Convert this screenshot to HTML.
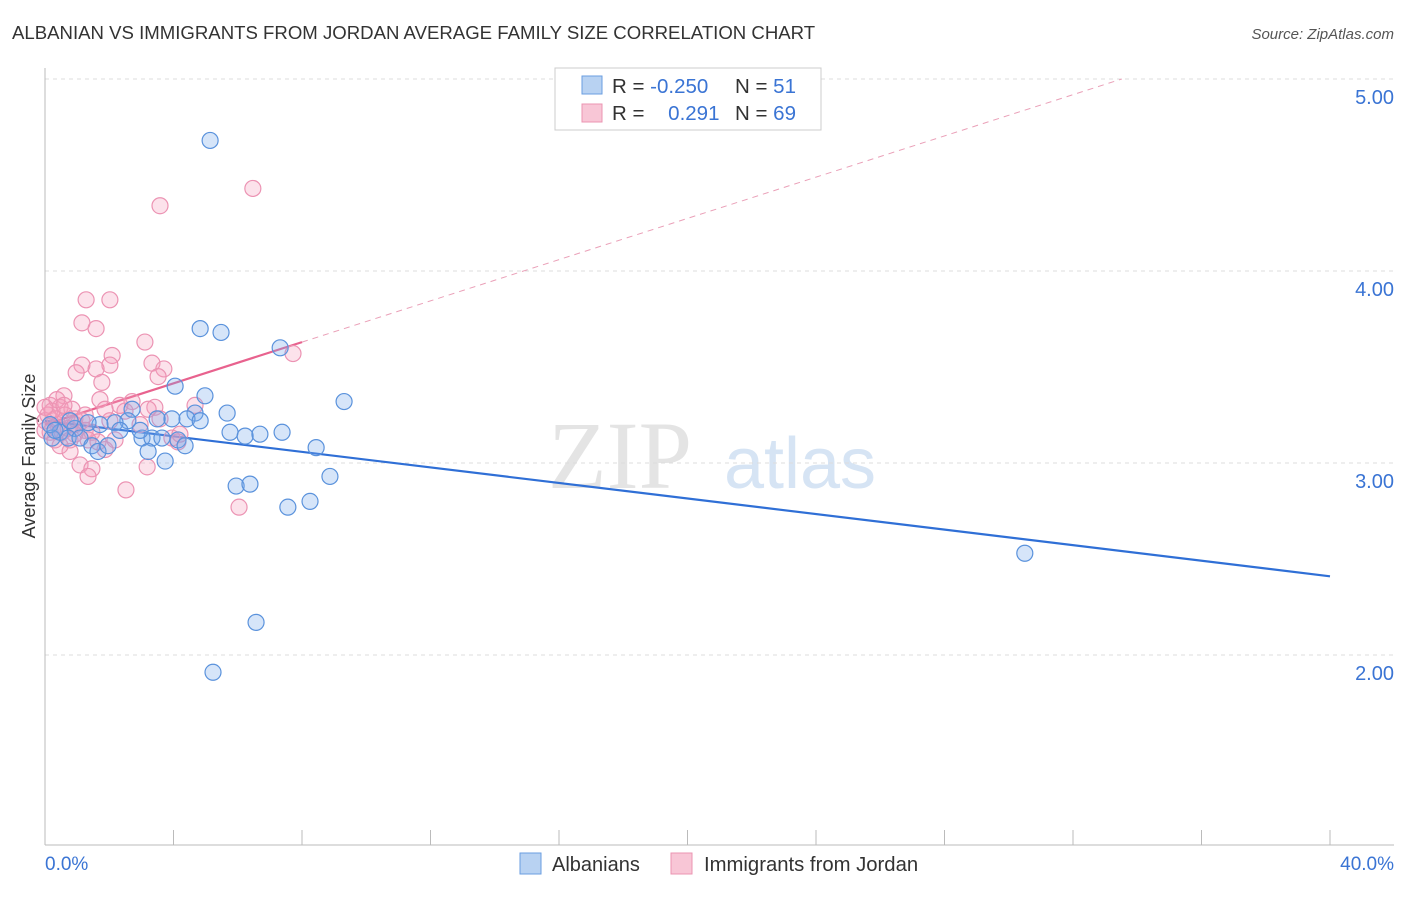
<!DOCTYPE html>
<html><head><meta charset="utf-8"><style>
body{margin:0;background:#fff;font-family:"Liberation Sans",sans-serif}
</style></head><body>
<svg id="c" width="1406" height="892" xmlns="http://www.w3.org/2000/svg">
<text x="12" y="39" font-size="18.6" fill="#333">ALBANIAN VS IMMIGRANTS FROM JORDAN AVERAGE FAMILY SIZE CORRELATION CHART</text>
<text x="1394" y="39" font-size="15" fill="#555" font-style="italic" text-anchor="end">Source: ZipAtlas.com</text>
<text x="35" y="456" font-size="18" fill="#333" text-anchor="middle" transform="rotate(-90 35 456)">Average Family Size</text>
<text x="620" y="488" font-size="96" fill="#e4e4e4" font-family="Liberation Serif" text-anchor="middle">ZIP</text>
<text x="800" y="488" font-size="72" fill="#d6e4f4" text-anchor="middle">atlas</text>
<g id="grid"></g><g id="axes"></g><g id="lines"></g><g id="pts"></g>
<g>
<rect x="555" y="68" width="266" height="62" fill="#fff" stroke="#ccc"/>
<rect x="582" y="76" width="20" height="18" fill="#b8d2f2" stroke="#6a9ee0"/>
<rect x="582" y="104" width="20" height="18" fill="#f8c6d6" stroke="#eb94b2"/>
<text x="612" y="93" font-size="20.5" fill="#333">R = <tspan fill="#3a74d4">-0.250</tspan></text>
<text x="735" y="93" font-size="20.5" fill="#333">N = <tspan fill="#3a74d4"> 51</tspan></text>
<text x="612" y="120" font-size="20.5" fill="#333">R = <tspan fill="#3a74d4" dx="18">0.291</tspan></text>
<text x="735" y="120" font-size="20.5" fill="#333">N = <tspan fill="#3a74d4">69</tspan></text>
</g>
<g>
<rect x="520" y="853" width="21" height="21" fill="#b8d2f2" stroke="#6a9ee0"/>
<text x="552" y="871" font-size="20" fill="#333">Albanians</text>
<rect x="671" y="853" width="21" height="21" fill="#f8c6d6" stroke="#eb94b2"/>
<text x="704" y="871" font-size="20.3" fill="#333">Immigrants from Jordan</text>
</g>
<text x="45" y="870" font-size="19" fill="#3a74d4">0.0%</text>
<text x="1394" y="870" font-size="19" fill="#3a74d4" text-anchor="end">40.0%</text>
</svg>
<script>
const yTicks=[5,4,3,2];
const yTickLabels=["5.00","4.00","3.00","2.00"];
const blueX=[5.14,4.83,5.48,7.32,9.31,4.05,4.98,5.67,4.67,4.42,3.95,3.49,2.71,2.58,2.18,1.71,1.34,0.93,0.47,0.22,0.72,1.09,1.46,1.65,1.96,3.02,3.33,3.64,4.14,4.36,5.76,6.23,6.69,7.38,8.44,3.21,3.74,5.95,6.38,7.56,8.25,8.87,6.57,5.23,30.5,0.16,0.31,2.33,2.96,0.78,4.83];
const blueY=[4.68,3.70,3.68,3.60,3.32,3.40,3.35,3.26,3.26,3.23,3.23,3.23,3.28,3.22,3.21,3.20,3.21,3.18,3.16,3.13,3.13,3.13,3.09,3.06,3.09,3.13,3.13,3.13,3.12,3.09,3.16,3.14,3.15,3.16,3.08,3.06,3.01,2.88,2.89,2.77,2.80,2.93,2.17,1.91,2.53,3.20,3.17,3.17,3.17,3.22,3.22];
const pinkX=[6.47,3.58,1.28,2.02,1.15,1.59,3.11,2.09,1.15,2.02,0.97,1.59,3.33,3.70,3.52,1.77,0.59,1.71,2.71,3.42,4.67,0.16,0.47,0.84,0.09,0.31,0.62,0.93,0,0.40,0.72,1.25,1.46,2.02,2.49,3.21,3.58,3.95,4.14,0.16,0.53,0.93,1.34,1.87,0.78,1.09,1.46,1.34,3.18,2.52,6.04,7.72,0,0.22,0.37,0.59,1.15,1.65,2.18,2.96,4.20,1.87,2.33,0.78,0.47,0,0.31,1.25,0.93];
const pinkY=[4.43,4.34,3.85,3.85,3.73,3.70,3.63,3.56,3.51,3.51,3.47,3.49,3.52,3.49,3.45,3.42,3.35,3.33,3.32,3.29,3.30,3.30,3.29,3.28,3.25,3.23,3.25,3.23,3.22,3.20,3.18,3.17,3.16,3.22,3.27,3.28,3.23,3.13,3.11,3.16,3.16,3.15,3.12,3.07,3.06,2.99,2.97,2.93,2.98,2.86,2.77,3.57,3.17,3.27,3.33,3.30,3.22,3.11,3.12,3.20,3.15,3.28,3.30,3.12,3.09,3.29,3.12,3.25,3.20];
const blueTrend=[3.22,2.41]; // y at x=0, x=40
const pinkTrend=[3.20,0.0537]; // intercept, slope per %
const NS="http://www.w3.org/2000/svg";
const sx=v=>45+v/40*1285, sy=v=>79+(5-v)*192;
function mk(t,a,p){const e=document.createElementNS(NS,t);for(const k in a)e.setAttribute(k,a[k]);document.getElementById(p).appendChild(e);return e;}
yTicks.forEach((t,i)=>{
 const l=mk('line',{x1:45,x2:1394,y1:sy(t),y2:sy(t),stroke:'#ddd','stroke-dasharray':'4,4'},'grid');
 
 
 const tx=mk('text',{x:1394,y:sy(t)+25,'font-size':20,fill:'#3a74d4','text-anchor':'end'},'grid');
 tx.textContent=yTickLabels[i];
 
 
});
mk('line',{x1:45,x2:45,y1:68,y2:845,stroke:'#bbb'},'axes');
mk('line',{x1:45,x2:1394,y1:845,y2:845,stroke:'#bbb'},'axes');
for(let i=0;i<=10;i++){const t=mk('line',{x1:sx(i*4),x2:sx(i*4),y1:830,y2:845,stroke:'#bbb'},'axes');
 
 }
function pts(X,Y,fill,stroke,name){X.forEach((x,i)=>{const c=mk('circle',{cx:sx(x),cy:sy(Y[i]),r:8,fill:fill,stroke:stroke,'stroke-width':1.2},'pts');
 
 });}
pts(pinkX,pinkY,'rgba(244,160,190,0.3)','#ec93b3','jordan-point');
pts(blueX,blueY,'rgba(120,170,235,0.3)','#5a92dc','albanian-point');
const bl=mk('line',{x1:sx(0),y1:sy(blueTrend[0]),x2:sx(40),y2:sy(blueTrend[1]),stroke:'#2f6fd6','stroke-width':2.2},'lines');


const xEnd=(5-pinkTrend[0])/pinkTrend[1];
const pd=mk('line',{x1:sx(8),y1:sy(pinkTrend[0]+8*pinkTrend[1]),x2:sx(xEnd),y2:sy(5),stroke:'#eaa0b8','stroke-width':1,'stroke-dasharray':'6,5'},'lines');


const pl=mk('line',{x1:sx(0),y1:sy(pinkTrend[0]),x2:sx(8),y2:sy(pinkTrend[0]+8*pinkTrend[1]),stroke:'#e8628e','stroke-width':2.2},'lines');


</script>
</body></html>
